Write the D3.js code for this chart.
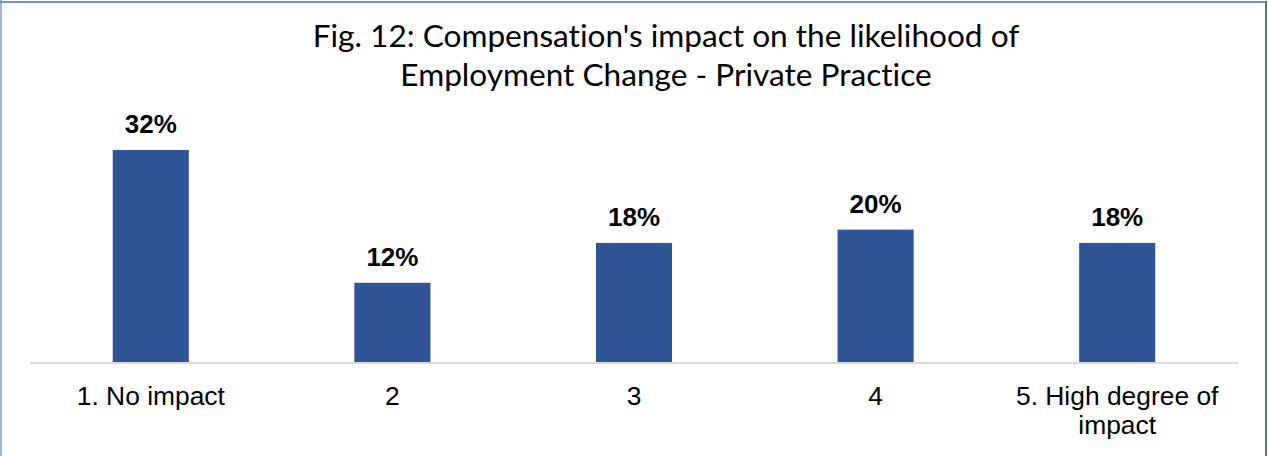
<!DOCTYPE html>
<html>
<head>
<meta charset="utf-8">
<script src="https://cdn.jsdelivr.net/npm/d3@7"></script>
<style>
  html, body { margin: 0; padding: 0; background: #ffffff; }
  svg { display: block; }
  text { font-variant-ligatures: none; }
</style>
</head>
<body>
<script>
// Chart data
const categories = ["1. No impact", "2", "3", "4", "5. High degree of impact"];
const values = [32, 12, 18, 20, 18];
const titleLines = [
  "Fig. 12: Compensation's impact on the likelihood of",
  "Employment Change - Private Practice"
];

const W = 1268, H = 456;
const svg = d3.select("body").append("svg").attr("width", W).attr("height", H);

// Frame edges
svg.append("line").attr("x1", 1).attr("x2", 1).attr("y1", 0).attr("y2", H)
  .attr("stroke", "#a3b6da").attr("stroke-width", 2);
svg.append("line").attr("x1", 0).attr("x2", 1267).attr("y1", 2).attr("y2", 2)
  .attr("stroke", "#7391c9").attr("stroke-width", 2);
svg.append("line").attr("x1", 1266).attr("x2", 1266).attr("y1", 1).attr("y2", H)
  .attr("stroke", "#4e73b8").attr("stroke-width", 2);

// Scales
const x = d3.scaleBand().domain(categories).range([30, 1238]).paddingInner(0.685).paddingOuter(0.3425);
const y = d3.scaleLinear().domain([0, 35]).range([362.5, 130]);

// Title
const title = svg.append("text")
  .attr("text-anchor", "middle")
  .attr("font-family", "Lato, sans-serif")
  .attr("font-size", 31.6)
  .attr("fill", "#000");
titleLines.forEach((t, i) => {
  title.append("tspan").attr("x", 666).attr("y", 47 + i * 39).text(t);
});

// Bars
svg.selectAll("rect.bar").data(values).join("rect")
  .attr("class", "bar")
  .attr("x", (d, i) => x(categories[i]))
  .attr("width", x.bandwidth())
  .attr("y", d => y(d))
  .attr("height", d => y(0) - y(d))
  .attr("fill", "#2f5597");

// Data labels
svg.selectAll("text.val").data(values).join("text")
  .attr("class", "val")
  .attr("x", (d, i) => x(categories[i]) + x.bandwidth() / 2)
  .attr("y", d => y(d) - 17)
  .attr("text-anchor", "middle")
  .attr("font-family", "Liberation Sans, Arial, sans-serif")
  .attr("font-weight", "bold")
  .attr("font-size", 26)
  .attr("fill", "#000")
  .text(d => d + "%");

// Category axis
const axis = d3.axisBottom(x).tickSize(0).tickPadding(0);
const g = svg.append("g").attr("transform", `translate(0,${y(0)})`).call(axis);
g.select(".domain").attr("stroke", "#d9d9d9").attr("stroke-width", 2)
  .attr("d", `M30,0.5H1238`);
g.selectAll(".tick text").remove();

// Category labels, wrapped to the band width
const labelWrap = {"5. High degree of impact": ["5. High degree of", "impact"]};
g.selectAll(".tick").each(function(d) {
  const lines = labelWrap[d] || [d];
  const t = d3.select(this).append("text")
    .attr("text-anchor", "middle")
    .attr("font-family", "Liberation Sans, Arial, sans-serif")
    .attr("font-size", 26.4)
    .attr("fill", "#000");
  lines.forEach((l, i) => {
    t.append("tspan").attr("x", 0).attr("y", 42 + i * 29).text(l);
  });
});
</script>
</body>
</html>
